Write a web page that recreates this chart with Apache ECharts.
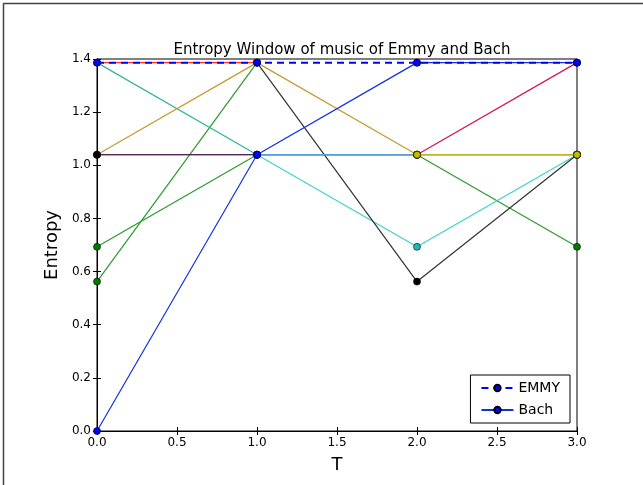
<!DOCTYPE html>
<html>
<head>
<meta charset="utf-8">
<script src="https://cdn.jsdelivr.net/npm/echarts@6/dist/echarts.min.js"></script>
<style>
  html, body { margin: 0; padding: 0; background: #fff; }
  #chart { width: 643px; height: 485px; }
</style>
</head>
<body>
<div id="chart"></div>
<script>
// window positions T
var tValues = [0, 1, 2, 3];
var yTicks = [0, 0.2, 0.4, 0.6, 0.8, 1.0, 1.2, 1.4];

// EMMY (dashed)
var emmyBlue = [1.3863, 1.3863, 1.3863, 1.3863];
var emmyRed = [1.3863, 1.3863, null, null];

// Bach (solid)
var bachBlue = [0, 1.0397, 1.3863, 1.3863];
var bachGreenA = [0.6931, 1.0397, 1.0397, 0.6931];
var bachGreenB = [0.5623, 1.3863, null, null];
var bachTeal = [1.3863, 1.0397, 1.0397, 1.0397];
var bachCyan = [null, 1.0397, 0.6931, 1.0397];
var bachMagenta = [1.0397, 1.0397, 1.0397, 1.0397];
var bachCrimson = [null, null, 1.0397, 1.3863];
var bachBlack = [null, 1.3863, 0.5623, 1.0397];
var bachDark = [1.0397, 1.0397, null, null];
var bachGold = [1.0397, 1.3863, 1.0397, 1.0397];
var bachLightBlue = [null, 1.0397, 1.0397, null];
var bachYellow = [null, null, 1.0397, 1.0397];

function pairs(vals) {
  return tValues.map(function (t, i) { return [t, vals[i]]; });
}

function line(name, vals, color, markerColor, opts) {
  opts = opts || {};
  return {
    name: name,
    type: 'line',
    data: pairs(vals),
    symbol: opts.noSymbol ? 'none' : 'circle',
    symbolSize: 7,
    showSymbol: !opts.noSymbol,
    connectNulls: false,
    animation: false,
    lineStyle: { color: color, width: opts.width || 1.2, type: opts.type || 'solid' },
    itemStyle: { color: markerColor || color, borderColor: '#000', borderWidth: 0.6 },
    emphasis: { disabled: true },
    z: opts.z || 2
  };
}

var chart = echarts.init(document.getElementById('chart'));
var option = {
  backgroundColor: '#fff',
  textStyle: { fontFamily: 'DejaVu Sans' },
  title: {
    text: 'Entropy Window of music of Emmy and Bach',
    left: 337, top: 38, textAlign: 'center',
    textStyle: { fontSize: 15, fontWeight: 'normal', color: '#000', fontFamily: 'DejaVu Sans' }
  },
  graphic: [
    { type: 'line', shape: { x1: 3, y1: 3.5, x2: 643, y2: 3.5 }, style: { stroke: '#444', lineWidth: 1.5 } },
    { type: 'line', shape: { x1: 3.5, y1: 3, x2: 3.5, y2: 485 }, style: { stroke: '#444', lineWidth: 1.5 } }
  ],
  legend: {
    right: 73, bottom: 62,
    orient: 'vertical',
    data: ['EMMY', 'Bach'],
    borderColor: '#000', borderWidth: 1, borderRadius: 0,
    padding: [6, 10, 6, 10],
    itemGap: 8, itemWidth: 32, itemHeight: 8,
    textStyle: { fontSize: 14, color: '#000', fontFamily: 'DejaVu Sans' },
    selectedMode: false
  },
  grid: { left: 97, right: 66, top: 59, bottom: 54, show: true, borderColor: '#000', borderWidth: 1 },
  xAxis: [{
    type: 'value', min: 0, max: 3, interval: 0.5,
    name: 'T', nameLocation: 'middle', nameGap: 25,
    nameTextStyle: { fontSize: 18, color: '#000' },
    axisLine: { show: true, onZero: false, lineStyle: { color: '#000' } },
    axisTick: { inside: true, length: 4, lineStyle: { color: '#000' } },
    axisLabel: { color: '#000', fontSize: 12, margin: 6, formatter: function (v) { return v.toFixed(1); } },
    splitLine: { show: false }
  }, {
    type: 'value', min: 0, max: 3, interval: 0.5, position: 'top',
    axisLine: { show: true, lineStyle: { color: '#000' } },
    axisTick: { inside: true, length: 4, lineStyle: { color: '#000' } },
    axisLabel: { show: false }, splitLine: { show: false }
  }],
  yAxis: [{
    type: 'value', min: yTicks[0], max: yTicks[yTicks.length - 1], interval: 0.2,
    name: 'Entropy', nameLocation: 'middle', nameGap: 32,
    nameTextStyle: { fontSize: 18, color: '#000' },
    axisLine: { show: true, onZero: false, lineStyle: { color: '#000' } },
    axisTick: { inside: true, length: 4, lineStyle: { color: '#000' } },
    axisLabel: { color: '#000', fontSize: 12, margin: 6, formatter: function (v) { return v.toFixed(1); } },
    splitLine: { show: false }
  }, {
    type: 'value', min: 0, max: 1.4, interval: 0.2, position: 'right',
    axisLine: { show: true, lineStyle: { color: '#000' } },
    axisTick: { inside: true, length: 4, lineStyle: { color: '#000' } },
    axisLabel: { show: false }, splitLine: { show: false }
  }],
  series: [
    line('', bachMagenta, '#d050c8', '#bf00bf', { z: 2 }),
    line('', bachGreenA, '#2c9a2c', '#007a00', { z: 3 }),
    line('', bachGreenB, '#2c9a2c', '#007a00', { z: 3 }),
    line('', bachTeal, '#33b3a0', '#33b3a0', { z: 3 }),
    line('', bachCyan, '#40d0d0', '#20b8b8', { z: 4 }),
    line('', bachBlack, '#333333', '#000000', { z: 4 }),
    line('', bachGold, '#c49a30', '#c49a30', { z: 5 }),
    line('', bachDark, '#2a0a2a', '#000000', { z: 5 }),
    line('', bachCrimson, '#d4145a', '#d4145a', { z: 5 }),
    line('', bachLightBlue, '#5a9ed8', '#5a9ed8', { z: 5, noSymbol: true, width: 1.5 }),
    line('', bachYellow, '#c8c020', '#bfbf00', { z: 6 }),
    line('', emmyRed, '#ff3030', '#ff3030', { z: 6, noSymbol: true }),
    line('Bach', bachBlue, '#1030e0', '#0000ff', { z: 7 }),
    line('EMMY', emmyBlue, '#0000ff', '#0000ff', { z: 8, type: [7, 5], width: 2 })
  ]
};
chart.setOption(option);
</script>
</body>
</html>
